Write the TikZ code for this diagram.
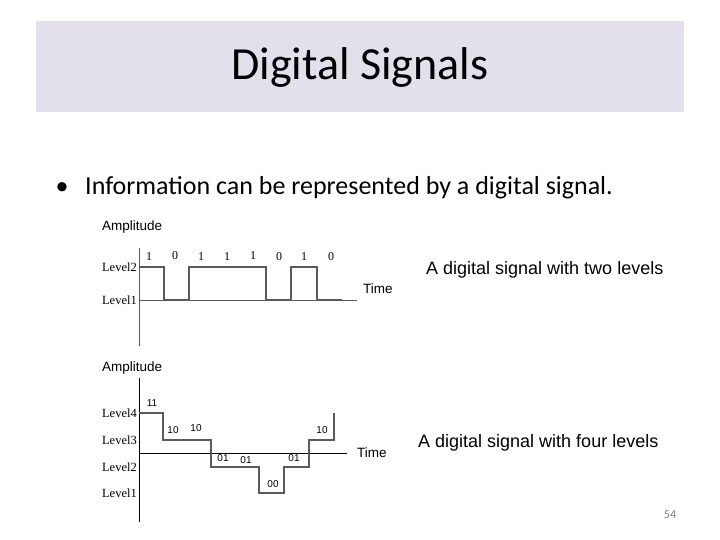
\documentclass[tikz,border=0pt]{standalone}
\usepackage{fontspec}
\setmainfont{Carlito}
\newfontfamily\arialfont{Liberation Sans}
\newfontfamily\levelfont{Liberation Serif}

\definecolor{titleband}{HTML}{E3DFEB}
\definecolor{sigtop}{HTML}{5A5A5A}

\tikzset{
    levellabel/.style = {anchor = east, inner sep = 1pt, font = \levelfont\fontsize{12.5}{13}\selectfont},
    bitlabel/.style   = {inner sep = 0pt, font = \levelfont\fontsize{12}{13}\selectfont},
    codelabel/.style  = {inner sep = 0pt, font = \arialfont\fontsize{10}{11}\selectfont},
    axislabel/.style  = {inner sep = 0pt, font = \arialfont\fontsize{13.5}{15}\selectfont},
    caption/.style    = {anchor = base west, inner sep = 0pt, font = \arialfont\fontsize{18}{20}\selectfont},
}

\begin{document}
\begin{tikzpicture}[x = 1pt, y = -1pt]
    \useasboundingbox (0, 0) rectangle (720, 540);

    % title band
    \fill [titleband] (36, 21) rectangle (684, 112);
    \node [anchor = base, inner sep = 0pt] (title) at (360, 80) {\fontsize{46}{52}\selectfont Digital Signals};

    \node [anchor = base, inner sep = 0pt] (dot) at (62, 195) {\fontsize{26}{30}\selectfont \textbullet};
    \node [anchor = base west, inner sep = 0pt] (bullet) at (85, 195)
        {\fontsize{26}{30}\selectfont Information can be represented by a digital signal.};

    \begin{scope}[local bounding box = twolevels]
        \node [axislabel, anchor = west] (amptop) at (102, 227) {Amplitude};
        \node [axislabel, anchor = west] (timetop) at (363, 289) {Time};

        \draw [sigtop, line width = 1pt] (139, 248) -- (139, 346);
        \draw [sigtop, line width = 1pt] (139, 300) -- (357, 300);

        \node [levellabel] (lvtwo) at (138, 267) {Level2};
        \node [levellabel] (lvone) at (138, 300) {Level1};

        % 1 0 1 1 1 0 1 0
        \draw [sigtop, line width = 1.3pt]
            (139, 267) -- (164, 267) -- (164, 300) -- (189, 300) -- (189, 267)
            -- (266, 267) -- (266, 300) -- (291, 300) -- (291, 267)
            -- (317, 267) -- (317, 300) -- (342, 300);

        \node [bitlabel] (b1) at (149, 257) {1};
        \node [bitlabel] (b2) at (175, 256) {0};
        \node [bitlabel] (b3) at (201, 257) {1};
        \node [bitlabel] (b4) at (227, 257) {1};
        \node [bitlabel] (b5) at (253, 256) {1};
        \node [bitlabel] (b6) at (279, 257) {0};
        \node [bitlabel] (b7) at (304, 257) {1};
        \node [bitlabel] (b8) at (331, 257) {0};
    \end{scope}

    \node [caption] (captwo) at (426, 274) {A digital signal with two levels};

    \begin{scope}[local bounding box = fourlevels]
        \node [axislabel, anchor = west] (ampbot) at (102, 368) {Amplitude};
        \node [axislabel, anchor = west] (timebot) at (357, 453) {Time};

        \draw [black, line width = 0.9pt] (139, 378) -- (139, 522);
        \draw [black, line width = 0.9pt] (139, 453) -- (347, 453);

        \node [levellabel] (lvfour)  at (138, 413) {Level4};
        \node [levellabel] (lvthree) at (138, 440) {Level3};
        \node [levellabel] (lvtwob)  at (138, 467) {Level2};
        \node [levellabel] (lvoneb)  at (138, 493) {Level1};

        % 11 10 10 01 01 00 01 10
        \draw [sigtop, line width = 1.3pt]
            (139, 413) -- (163, 413) -- (163, 440) -- (211, 440) -- (211, 467)
            -- (259, 467) -- (259, 493) -- (284, 493) -- (284, 467)
            -- (309, 467) -- (309, 440) -- (334, 440) -- (334, 413);

        \node [codelabel] (c1) at (152, 403) {11};
        \node [codelabel] (c2) at (173, 430) {10};
        \node [codelabel] (c3) at (196, 428) {10};
        \node [codelabel] (c4) at (223, 458) {01};
        \node [codelabel] (c5) at (246, 460) {01};
        \node [codelabel] (c6) at (273, 484) {00};
        \node [codelabel] (c7) at (294, 458) {01};
        \node [codelabel] (c8) at (322, 430) {10};
    \end{scope}

    \node [caption] (capfour) at (418, 447) {A digital signal with four levels};

    \node [gray, inner sep = 0pt] (pagenum) at (670, 515) {\fontsize{12}{14}\selectfont 54};
\end{tikzpicture}
\end{document}
